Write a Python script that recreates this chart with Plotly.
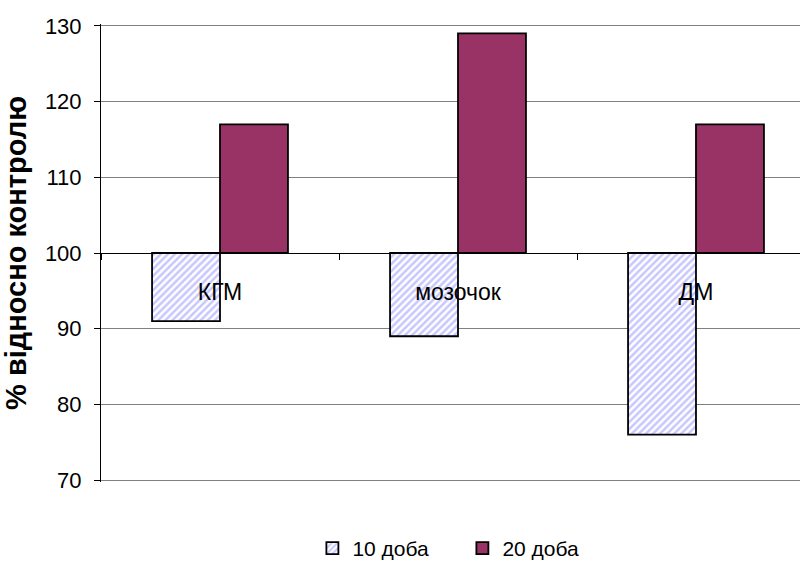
import plotly.graph_objects as go

categories = ["КГМ", "мозочок", "ДМ"]
series_names = ["10 доба", "20 доба"]
day10 = [91, 89, 76]
day20 = [117, 129, 117]
baseline = 100
y_ticks = [70, 80, 90, 100, 110, 120, 130]

sans = "Liberation Sans, Arial, sans-serif"

fig = go.Figure()
fig.add_trace(go.Bar(
    name=series_names[0],
    x=categories,
    y=[v - baseline for v in day10],
    base=baseline,
    marker=dict(
        color="white",
        pattern=dict(shape="/", fgcolor="#8f8fff", bgcolor="white", size=5, solidity=0.5),
        line=dict(color="black", width=1.8),
    ),
))
fig.add_trace(go.Bar(
    name=series_names[1],
    x=categories,
    y=[v - baseline for v in day20],
    base=baseline,
    marker=dict(color="#993366", line=dict(color="black", width=1.8)),
))

# pad the value range slightly so the 70 and 130 gridlines are not clipped at the edges
y_pad = 0.25

fig.update_layout(
    width=800,
    height=563,
    margin=dict(l=101, r=0, t=24, b=81, autoexpand=False),
    paper_bgcolor="white",
    plot_bgcolor="white",
    barmode="group",
    bargap=0.429,
    bargroupgap=0,
    font=dict(family=sans, color="black"),
    showlegend=True,
    legend=dict(
        orientation="h",
        x=0.517, xanchor="center",
        y=-0.145, yanchor="middle",
        font=dict(size=21, family=sans),
        itemwidth=30,
        entrywidth=105,
        traceorder="normal",
    ),
    xaxis=dict(
        range=[-0.5, 2.437],
        anchor="free",
        position=0.5,
        showline=True,
        linecolor="black",
        linewidth=1,
        showgrid=False,
        ticks="outside",
        tickson="boundaries",
        ticklen=6,
        tickcolor="black",
        tickfont=dict(size=23, family=sans),
        ticklabelstandoff=18,
        fixedrange=True,
    ),
    yaxis=dict(
        range=[y_ticks[0] - y_pad, y_ticks[-1] + y_pad],
        tickvals=y_ticks,
        showline=True,
        linecolor="black",
        linewidth=1,
        showgrid=True,
        gridcolor="#808080",
        gridwidth=1,
        zeroline=False,
        ticks="outside",
        ticklen=6,
        tickcolor="black",
        tickfont=dict(size=22, family=sans),
        ticklabelstandoff=8,
        title=dict(
            text="<b>% відносно контролю</b>",
            font=dict(size=29, family=sans),
            standoff=12,
        ),
    ),
)

fig.write_html("out.html")
